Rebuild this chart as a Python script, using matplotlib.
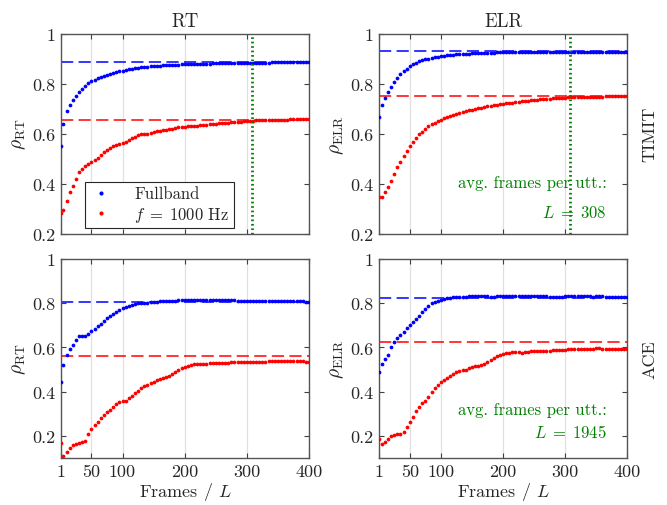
import matplotlib
matplotlib.use("Agg")
import matplotlib.pyplot as plt

plt.rcParams['font.family'] = 'serif'
plt.rcParams['font.serif'] = ['cmr10']
plt.rcParams['mathtext.fontset'] = 'cm'
plt.rcParams['axes.formatter.use_mathtext'] = True

# ---------------- data ----------------
frames = [1, 5, 10, 15, 20, 25, 30, 35, 40, 45,
          50, 55, 60, 65, 70, 75, 80, 85, 90, 95,
          100, 105, 110, 115, 120, 125, 130, 135, 140, 145,
          150, 155, 160, 165, 170, 175, 180, 185, 190, 195,
          200, 205, 210, 215, 220, 225, 230, 235, 240, 245,
          250, 255, 260, 265, 270, 275, 280, 285, 290, 295,
          300, 305, 310, 315, 320, 325, 330, 335, 340, 345,
          350, 355, 360, 365, 370, 375, 380, 385, 390, 395,
          400]

rt_timit_full = [0.552, 0.641, 0.691, 0.715, 0.736, 0.751, 0.767, 0.781, 0.791, 0.802,
                 0.810, 0.816, 0.822, 0.827, 0.832, 0.836, 0.840, 0.843, 0.847, 0.850,
                 0.853, 0.855, 0.858, 0.860, 0.862, 0.864, 0.866, 0.867, 0.869, 0.870,
                 0.871, 0.872, 0.873, 0.874, 0.875, 0.876, 0.876, 0.877, 0.877, 0.878,
                 0.878, 0.879, 0.879, 0.880, 0.880, 0.880, 0.881, 0.881, 0.881, 0.882,
                 0.882, 0.882, 0.882, 0.883, 0.883, 0.883, 0.883, 0.884, 0.884, 0.884,
                 0.884, 0.884, 0.885, 0.885, 0.885, 0.885, 0.885, 0.885, 0.886, 0.886,
                 0.886, 0.886, 0.886, 0.886, 0.886, 0.886, 0.886, 0.886, 0.886, 0.886,
                 0.886]
rt_timit_1k = [0.284, 0.294, 0.330, 0.365, 0.390, 0.420, 0.445, 0.460, 0.472, 0.480,
               0.486, 0.494, 0.503, 0.513, 0.525, 0.536, 0.544, 0.550, 0.554, 0.557,
               0.561, 0.566, 0.573, 0.581, 0.588, 0.593, 0.597, 0.599, 0.601, 0.605,
               0.608, 0.611, 0.613, 0.615, 0.617, 0.619, 0.621, 0.624, 0.626, 0.628,
               0.629, 0.630, 0.631, 0.632, 0.633, 0.635, 0.636, 0.637, 0.638, 0.640,
               0.641, 0.642, 0.643, 0.644, 0.645, 0.646, 0.647, 0.648, 0.649, 0.650,
               0.651, 0.652, 0.653, 0.654, 0.654, 0.655, 0.655, 0.656, 0.656, 0.656,
               0.657, 0.657, 0.657, 0.657, 0.658, 0.658, 0.658, 0.658, 0.658, 0.658,
               0.658]
elr_timit_full = [0.667, 0.715, 0.744, 0.768, 0.788, 0.808, 0.824, 0.838, 0.850, 0.861,
                  0.870, 0.878, 0.885, 0.890, 0.894, 0.898, 0.901, 0.904, 0.907, 0.909,
                  0.911, 0.913, 0.914, 0.916, 0.917, 0.918, 0.919, 0.920, 0.921, 0.921,
                  0.922, 0.923, 0.923, 0.924, 0.924, 0.925, 0.925, 0.925, 0.926, 0.926,
                  0.926, 0.927, 0.927, 0.927, 0.927, 0.927, 0.927, 0.927, 0.927, 0.927,
                  0.927, 0.928, 0.928, 0.928, 0.928, 0.928, 0.928, 0.928, 0.928, 0.928,
                  0.928, 0.929, 0.929, 0.929, 0.929, 0.929, 0.929, 0.929, 0.929, 0.929,
                  0.929, 0.929, 0.929, 0.929, 0.929, 0.929, 0.929, 0.929, 0.929, 0.929,
                  0.929]
elr_timit_1k = [0.345, 0.345, 0.365, 0.388, 0.410, 0.437, 0.465, 0.488, 0.512, 0.532,
                0.550, 0.567, 0.583, 0.597, 0.609, 0.620, 0.630, 0.638, 0.645, 0.651,
                0.657, 0.662, 0.667, 0.672, 0.676, 0.680, 0.684, 0.688, 0.691, 0.694,
                0.697, 0.700, 0.703, 0.705, 0.708, 0.710, 0.712, 0.714, 0.716, 0.718,
                0.720, 0.722, 0.724, 0.725, 0.727, 0.728, 0.730, 0.731, 0.733, 0.734,
                0.735, 0.737, 0.738, 0.739, 0.740, 0.741, 0.742, 0.743, 0.744, 0.745,
                0.745, 0.746, 0.746, 0.747, 0.747, 0.748, 0.748, 0.749, 0.749, 0.749,
                0.749, 0.749, 0.749, 0.750, 0.750, 0.750, 0.750, 0.750, 0.750, 0.750,
                0.750]
rt_ace_full = [0.442, 0.522, 0.566, 0.593, 0.613, 0.634, 0.650, 0.651, 0.651, 0.661,
               0.676, 0.683, 0.695, 0.706, 0.721, 0.732, 0.741, 0.751, 0.762, 0.771,
               0.778, 0.784, 0.789, 0.793, 0.797, 0.799, 0.801, 0.802, 0.803, 0.804,
               0.805, 0.807, 0.808, 0.810, 0.811, 0.812, 0.812, 0.812, 0.813, 0.813,
               0.813, 0.813, 0.813, 0.814, 0.815, 0.816, 0.816, 0.815, 0.815, 0.815,
               0.814, 0.814, 0.815, 0.815, 0.815, 0.814, 0.813, 0.812, 0.811, 0.810,
               0.810, 0.811, 0.812, 0.812, 0.811, 0.810, 0.809, 0.809, 0.810, 0.810,
               0.810, 0.810, 0.810, 0.810, 0.810, 0.809, 0.809, 0.808, 0.808, 0.807,
               0.807]
rt_ace_1k = [0.168, 0.108, 0.125, 0.147, 0.158, 0.165, 0.169, 0.171, 0.179, 0.207,
             0.229, 0.250, 0.264, 0.281, 0.296, 0.307, 0.317, 0.329, 0.344, 0.355,
             0.359, 0.359, 0.370, 0.382, 0.394, 0.404, 0.415, 0.424, 0.432, 0.438,
             0.445, 0.453, 0.457, 0.460, 0.465, 0.472, 0.481, 0.490, 0.499, 0.507,
             0.513, 0.518, 0.521, 0.524, 0.525, 0.525, 0.526, 0.527, 0.528, 0.529,
             0.530, 0.530, 0.531, 0.531, 0.531, 0.532, 0.532, 0.532, 0.533, 0.533,
             0.533, 0.534, 0.534, 0.535, 0.535, 0.534, 0.535, 0.537, 0.538, 0.539,
             0.539, 0.539, 0.539, 0.538, 0.538, 0.538, 0.537, 0.537, 0.537, 0.536,
             0.536]
elr_ace_full = [0.488, 0.525, 0.546, 0.568, 0.600, 0.624, 0.643, 0.656, 0.671, 0.686,
                0.701, 0.714, 0.729, 0.744, 0.759, 0.774, 0.786, 0.799, 0.807, 0.812,
                0.815, 0.819, 0.822, 0.824, 0.826, 0.827, 0.828, 0.829, 0.830, 0.831,
                0.831, 0.831, 0.832, 0.832, 0.831, 0.831, 0.830, 0.830, 0.831, 0.831,
                0.831, 0.831, 0.832, 0.832, 0.832, 0.833, 0.834, 0.833, 0.832, 0.832,
                0.831, 0.831, 0.831, 0.831, 0.831, 0.830, 0.830, 0.830, 0.830, 0.830,
                0.831, 0.831, 0.831, 0.831, 0.832, 0.832, 0.831, 0.831, 0.831, 0.830,
                0.831, 0.831, 0.831, 0.830, 0.830, 0.830, 0.830, 0.830, 0.830, 0.830,
                0.830]
elr_ace_1k = [0.186, 0.163, 0.171, 0.186, 0.198, 0.204, 0.209, 0.207, 0.219, 0.239,
              0.264, 0.287, 0.311, 0.332, 0.349, 0.359, 0.377, 0.397, 0.415, 0.430,
              0.442, 0.453, 0.463, 0.472, 0.480, 0.487, 0.492, 0.496, 0.499, 0.505,
              0.511, 0.514, 0.518, 0.521, 0.525, 0.533, 0.543, 0.552, 0.560, 0.566,
              0.570, 0.575, 0.577, 0.578, 0.578, 0.578, 0.577, 0.578, 0.580, 0.582,
              0.583, 0.583, 0.584, 0.584, 0.585, 0.586, 0.587, 0.588, 0.589, 0.590,
              0.590, 0.591, 0.592, 0.592, 0.593, 0.593, 0.594, 0.594, 0.595, 0.595,
              0.596, 0.596, 0.595, 0.595, 0.594, 0.594, 0.594, 0.594, 0.593, 0.593,
              0.593]

# reference (dashed) levels: [fullband, 1000 Hz]
ref_rt_timit = [0.886, 0.656]
ref_elr_timit = [0.930, 0.750]
ref_rt_ace = [0.804, 0.560]
ref_elr_ace = [0.825, 0.623]

avg_frames = [308, 1945]
col_titles = ['RT', 'ELR']
row_labels = ['TIMIT', 'ACE']
ylabels = [r'$\rho_{\mathrm{RT}}$', r'$\rho_{\mathrm{ELR}}$']
series_labels = ['Fullband', r'$f\;=\;1000$ Hz']
xticks = [1, 50, 100, 200, 300, 400]
xticklabels = ['1', '50', '100', '200', '300', '400']
yticks = [0.2, 0.4, 0.6, 0.8, 1.0]
yticklabels = ['0.2', '0.4', '0.6', '0.8', '1']

# ---------------- figure ----------------
fig = plt.figure(figsize=(6.67, 5.06), dpi=100)
W, H = 667.0, 506.0
lefts = [61.0, 379.3]
tops = [35.0, 260.0]
bottoms = [234.5, 459.0]
aw = 248.0

panels = [
    [(rt_timit_full, rt_timit_1k, ref_rt_timit), (elr_timit_full, elr_timit_1k, ref_elr_timit)],
    [(rt_ace_full, rt_ace_1k, ref_rt_ace), (elr_ace_full, elr_ace_1k, ref_elr_ace)],
]
ylims = [(0.2, 1.0), (0.1, 1.0)]

dark = '#262626'
blue = (0, 0, 1)
red = (1, 0, 0)
green = (0, 0.5, 0)

for r in range(2):
    for c in range(2):
        ax = fig.add_axes([lefts[c] / W, 1 - bottoms[r] / H, aw / W, (bottoms[r] - tops[r]) / H])
        full, onek, ref = panels[r][c]
        ax.set_xlim(1, 400)
        ax.set_ylim(*ylims[r])
        ax.set_xticks(xticks)
        ax.set_yticks(yticks)
        ax.set_yticklabels(yticklabels)
        if r == 1:
            ax.set_xticklabels(xticklabels)
            ax.set_xlabel(r'Frames / $L$', fontsize=13, color=dark, labelpad=1)
        else:
            ax.set_xticklabels([])
            ax.set_title(col_titles[c], fontsize=13.5, color=dark, pad=6)
        ax.grid(True, axis='x', color='#e0e0e0', lw=0.9, zorder=0)
        ax.set_axisbelow(True)
        ax.tick_params(direction='in', top=True, right=True, length=3.5, width=0.8,
                       labelsize=13, colors='#404040', labelcolor=dark, pad=4)
        for s in ax.spines.values():
            s.set_color('#555555')
            s.set_linewidth(1.0)
        ax.set_ylabel(ylabels[c], fontsize=14, color=dark, labelpad=3)

        ax.axhline(ref[0], color=blue, lw=1.1, dashes=(8, 3.5), zorder=2)
        ax.axhline(ref[1], color=red, lw=1.1, dashes=(8, 3.5), zorder=2)
        ax.plot(frames, full, 'o', color=blue, ms=2.7, mec='none', zorder=3, label=series_labels[0])
        ax.plot(frames, onek, 'o', color=red, ms=2.7, mec='none', zorder=3, label=series_labels[1])

        if avg_frames[r] <= 400:
            ax.axvline(avg_frames[r], color=green, lw=2.0, ls=(0, (0.6, 1.0)), zorder=4)

        if c == 1:
            if r == 0:
                y1, y2 = 0.405, 0.288
            else:
                y1, y2 = 0.32, 0.222
            ax.text(367, y1, 'avg. frames per utt.:', color=green, fontsize=12,
                    ha='right', va='center', zorder=5)
            ax.text(367, y2, r'$L\;=\;%d$' % avg_frames[r], color=green, fontsize=12,
                    ha='right', va='center', zorder=5)
            ax.text(1.09, 0.5, row_labels[r], transform=ax.transAxes, rotation=90,
                    ha='center', va='center', fontsize=13, color=dark)

        if r == 0 and c == 0:
            leg = ax.legend(loc='lower left', bbox_to_anchor=(0.098, 0.028), fontsize=12,
                            frameon=True, fancybox=False, markerscale=1.1,
                            handlelength=1.4, handletextpad=1.3, borderpad=0.25,
                            labelspacing=0.2, borderaxespad=0.0)
            leg.get_frame().set_edgecolor(dark)
            leg.get_frame().set_linewidth(0.8)
            leg.get_frame().set_alpha(1.0)
            for t in leg.get_texts():
                t.set_color(dark)

fig.savefig('out.png', dpi=100)
